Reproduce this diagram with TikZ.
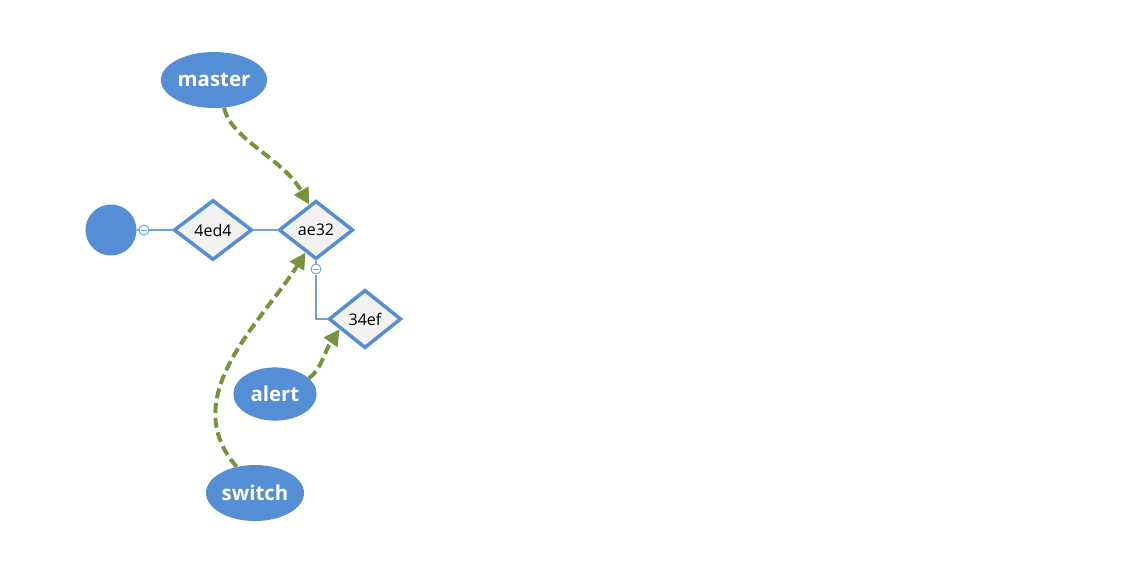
\documentclass[tikz,border=0pt]{standalone}
\usepackage{fontspec}
\setmainfont{Open Sans}
\usetikzlibrary{shapes.geometric,arrows.meta}
\definecolor{nodeblue}{RGB}{85,142,213}
\definecolor{linkblue}{RGB}{110,160,222}
\definecolor{arrowgreen}{RGB}{119,147,60}
\definecolor{commitfill}{RGB}{242,242,242}
\begin{document}
\begin{tikzpicture}[x=0.025cm, y=-0.025cm,
    commit/.style={diamond, draw=nodeblue, line width=2.5pt, fill=commitfill, inner sep=0pt,
        minimum width=1.86cm, minimum height=1.46cm, font=\fontsize{11.4}{13}\selectfont},
    branch/.style={ellipse, fill=nodeblue, text=white, inner sep=0pt, font=\fontsize{14.5}{16}\selectfont\bfseries},
    fold/.style={circle, draw=linkblue, fill=white, line width=0.7pt, minimum size=0.25cm, inner sep=0pt,
        path picture={\draw[linkblue, line width=0.7pt] ([xshift=-0.07cm]path picture bounding box.center) -- ([xshift=0.07cm]path picture bounding box.center);}},
    link/.style={draw=linkblue, line width=0.9pt},
    pointer/.style={draw=arrowgreen, line width=2.8pt, dash pattern=on 0.25cm off 0.12cm,
        -{Triangle[length=0.4cm, width=0.4cm]}}]
        \useasboundingbox (0,0) rectangle (1144,581);
        \node[circle, fill=nodeblue, minimum size=1.275cm, inner sep=0pt] (root) at (111,230) {};
        \node[fold] (k1) at (144,230) {};
        \node[commit, minimum width=1.96cm, minimum height=1.5cm] (c1) at (213,230) {4ed4};
        \node[commit] (c2) at (316,230) {ae32};
        \node[fold] (k2) at (316,269) {};
        \node[commit, minimum width=1.81cm] (c3) at (365,319) {34ef};
        \node[branch, minimum width=2.65cm, minimum height=1.4cm] (master) at (214,80) {master};
        \node[branch, minimum width=2.08cm, minimum height=1.33cm] (alert) at (275,394) {alert};
        \node[branch, minimum width=2.45cm, minimum height=1.4cm] (switch) at (255,493) {switch};
        \draw[link] (root) -- (k1);
        \draw[link] (k1) -- (c1);
        \draw[link] (c1.east) -- (c2.west);
        \draw[link] (c2) -- (k2);
        \draw[link] (k2) |- (c3.west);
        \draw[pointer] (master.-70) .. controls +(7,32) and +(-27,-47) .. (c2.105);
        \draw[pointer] (switch.125) .. controls +(-61,-70) and +(-44,70) .. (c2.-115);
        \draw[pointer] (alert.25) .. controls +(12,-8) and +(-14,20) .. (c3.-158);
    \end{tikzpicture}
\end{document}
